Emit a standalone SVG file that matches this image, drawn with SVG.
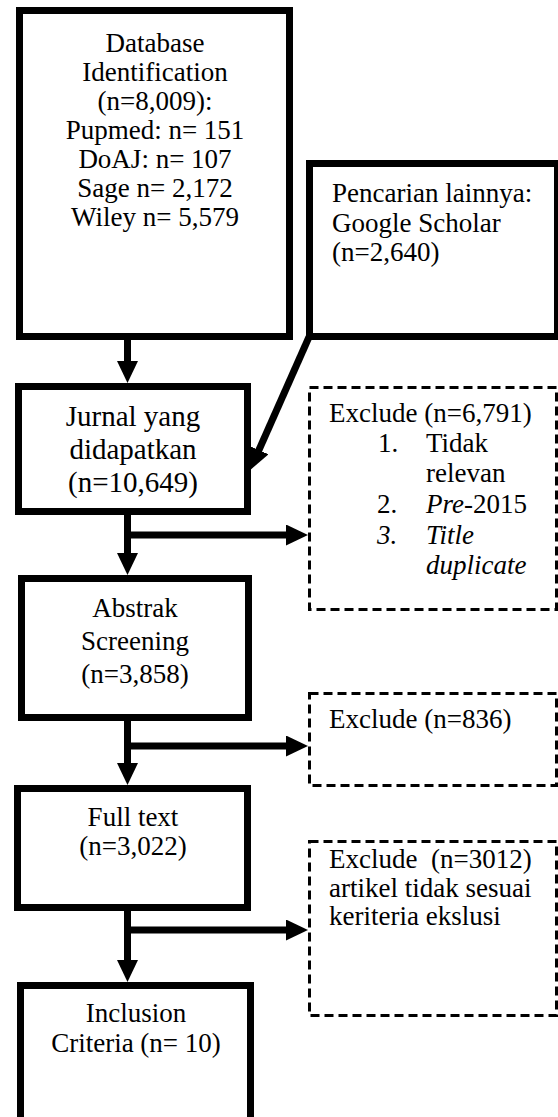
<svg xmlns="http://www.w3.org/2000/svg" width="558" height="1117" viewBox="0 0 558 1117">
<style>
.box{fill:#fff;stroke:#000;stroke-width:7}
.dash{fill:#fff;stroke:#000;stroke-width:3;stroke-dasharray:9 5}
.conn{fill:none;stroke:#000;stroke-width:7;stroke-linecap:butt}
text{font-family:"Liberation Serif","Times New Roman",serif;font-size:27px;fill:#000}
.c{text-anchor:middle}
.big{font-size:29px}
.i{font-style:italic}
</style>
<defs>
<marker id="ah" markerUnits="userSpaceOnUse" markerWidth="24" markerHeight="22" refX="1" refY="10.5" orient="auto">
<path d="M0,0 L22,10.5 L0,21 z" fill="#000"/>
</marker>
</defs>
<g id="connectors">
<line class="conn" x1="127.5" y1="338" x2="127.5" y2="362" marker-end="url(#ah)"/>
<line class="conn" x1="127.5" y1="513" x2="127.5" y2="554" marker-end="url(#ah)"/>
<line class="conn" x1="127.5" y1="719" x2="127.5" y2="764" marker-end="url(#ah)"/>
<line class="conn" x1="127.5" y1="909" x2="127.5" y2="961" marker-end="url(#ah)"/>
<line class="conn" x1="124" y1="535" x2="287" y2="535" marker-end="url(#ah)"/>
<line class="conn" x1="124" y1="746" x2="287" y2="746" marker-end="url(#ah)"/>
<line class="conn" x1="124" y1="930" x2="287" y2="930" marker-end="url(#ah)"/>
<line class="conn" x1="309" y1="337" x2="258.5" y2="451" marker-end="url(#ah)"/>
</g>
<g id="database">
<rect class="box" x="19.5" y="10.5" width="270" height="326"/>
<text class="c" x="155" y="52">Database</text>
<text class="c" x="155" y="81">Identification</text>
<text class="c" x="155" y="110">(n=8,009):</text>
<text class="c" x="155" y="139">Pupmed: n= 151</text>
<text class="c" x="155" y="168">DoAJ: n= 107</text>
<text class="c" x="155" y="197">Sage n= 2,172</text>
<text class="c" x="155" y="226">Wiley n= 5,579</text>
</g>
<g id="google">
<rect class="box" x="309.5" y="163.5" width="248" height="173"/>
<text x="332" y="202">Pencarian lainnya:</text>
<text x="332" y="232">Google Scholar</text>
<text x="332" y="261">(n=2,640)</text>
</g>
<g id="jurnal">
<rect class="box" x="18.5" y="386.5" width="229" height="125"/>
<text class="c big" x="133" y="426">Jurnal yang</text>
<text class="c big" x="133" y="459">didapatkan</text>
<text class="c big" x="133" y="492">(n=10,649)</text>
</g>
<g id="exclude1">
<rect class="dash" x="309.5" y="387.5" width="247" height="222"/>
<text x="329" y="422">Exclude (n=6,791)</text>
<text x="378" y="452">1.</text><text x="426" y="452">Tidak</text>
<text x="426" y="482">relevan</text>
<text x="377" y="513">2.</text><text x="426" y="513"><tspan class="i">Pre</tspan>-2015</text>
<text class="i" x="377" y="544">3.</text><text class="i" x="426" y="544">Title</text>
<text class="i" x="426" y="574">duplicate</text>
</g>
<g id="abstrak">
<rect class="box" x="21.5" y="578.5" width="227" height="139"/>
<text class="c" x="135" y="617">Abstrak</text>
<text class="c" x="135" y="650">Screening</text>
<text class="c" x="135" y="683">(n=3,858)</text>
</g>
<g id="exclude2">
<rect class="dash" x="309.5" y="693.5" width="247" height="92"/>
<text x="329" y="728">Exclude (n=836)</text>
</g>
<g id="fulltext">
<rect class="box" x="17.5" y="788.5" width="230" height="119"/>
<text class="c" x="133" y="826">Full text</text>
<text class="c" x="133" y="855">(n=3,022)</text>
</g>
<g id="exclude3">
<rect class="dash" x="309.5" y="841.5" width="247" height="174"/>
<text x="329" y="868" xml:space="preserve">Exclude  (n=3012)</text>
<text x="329" y="897">artikel tidak sesuai</text>
<text x="329" y="925">keriteria ekslusi</text>
</g>
<g id="inclusion">
<rect class="box" x="20.5" y="985.5" width="230" height="136"/>
<text class="c" x="136" y="1022">Inclusion</text>
<text class="c" x="136" y="1052">Criteria (n= 10)</text>
</g>
</svg>
